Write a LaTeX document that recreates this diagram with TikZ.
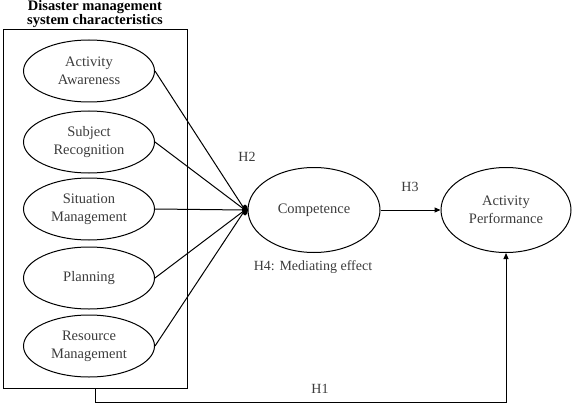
\documentclass[tikz,border=0pt]{standalone}
\usepackage{fontspec}
\setmainfont{Liberation Serif}
\usepackage{tikz}
\usetikzlibrary{arrows.meta,shapes.geometric}
\definecolor{TextoGris}{RGB}{60,60,60}

\begin{document}
\begin{tikzpicture}[x=1pt,y=-1pt,>={Triangle[length=6pt,width=5pt]},line width=1pt,
  factor/.style={draw,ellipse,minimum width=131pt,minimum height=62pt,align=center,
    font=\fontsize{14.5}{18}\selectfont,text=TextoGris,inner sep=0pt},
  constructo/.style={draw,ellipse,minimum width=132pt,minimum height=85pt,align=center,
    font=\fontsize{14.5}{18}\selectfont,text=TextoGris,inner sep=0pt},
  etiqueta/.style={font=\fontsize{14}{16}\selectfont,text=TextoGris}]
  \useasboundingbox (0,0) rectangle (572,409);
  \node[font=\bfseries\fontsize{14.5}{14}\selectfont,align=center,inner sep=0pt] (titulo) at (95,14) {Disaster management\\system characteristics};
  \node[draw,minimum width=184pt,minimum height=358pt,inner sep=0pt] (caja) at (95,209) {};
  \node[factor] (conciencia) at (89,71) {Activity\\Awareness};
  \node[factor] (sujeto) at (89,142) {Subject\\Recognition};
  \node[factor] (situacion) at (89,209) {Situation\\Management};
  \node[factor] (planif) at (89,278) {Planning};
  \node[factor] (recurso) at (89,346) {Resource\\Management};
  \node[ellipse,fill=black,minimum width=6pt,minimum height=11pt,inner sep=0pt] (nudo) at (245,210) {};
  \node[constructo] (compet) at (314,210) {Competence};
  \node[constructo,minimum width=130pt] (desemp) at (506,210) {Activity\\Performance};
  \foreach \f in {conciencia,sujeto,situacion,planif,recurso}
    \draw (\f.east) -- (nudo.center);
  \draw[->] (compet.east) -- (desemp.west);
  \draw[->] (caja.south) -- ++(0,14) -| (desemp.south);
  \node[etiqueta] (h2) at (247,157) {H2};
  \node[etiqueta] (h3) at (410,187) {H3};
  \node[etiqueta] (h4) at (313,267) {H4: Mediating effect};
  \node[etiqueta] (h1) at (320,389) {H1};
\end{tikzpicture}
\end{document}
